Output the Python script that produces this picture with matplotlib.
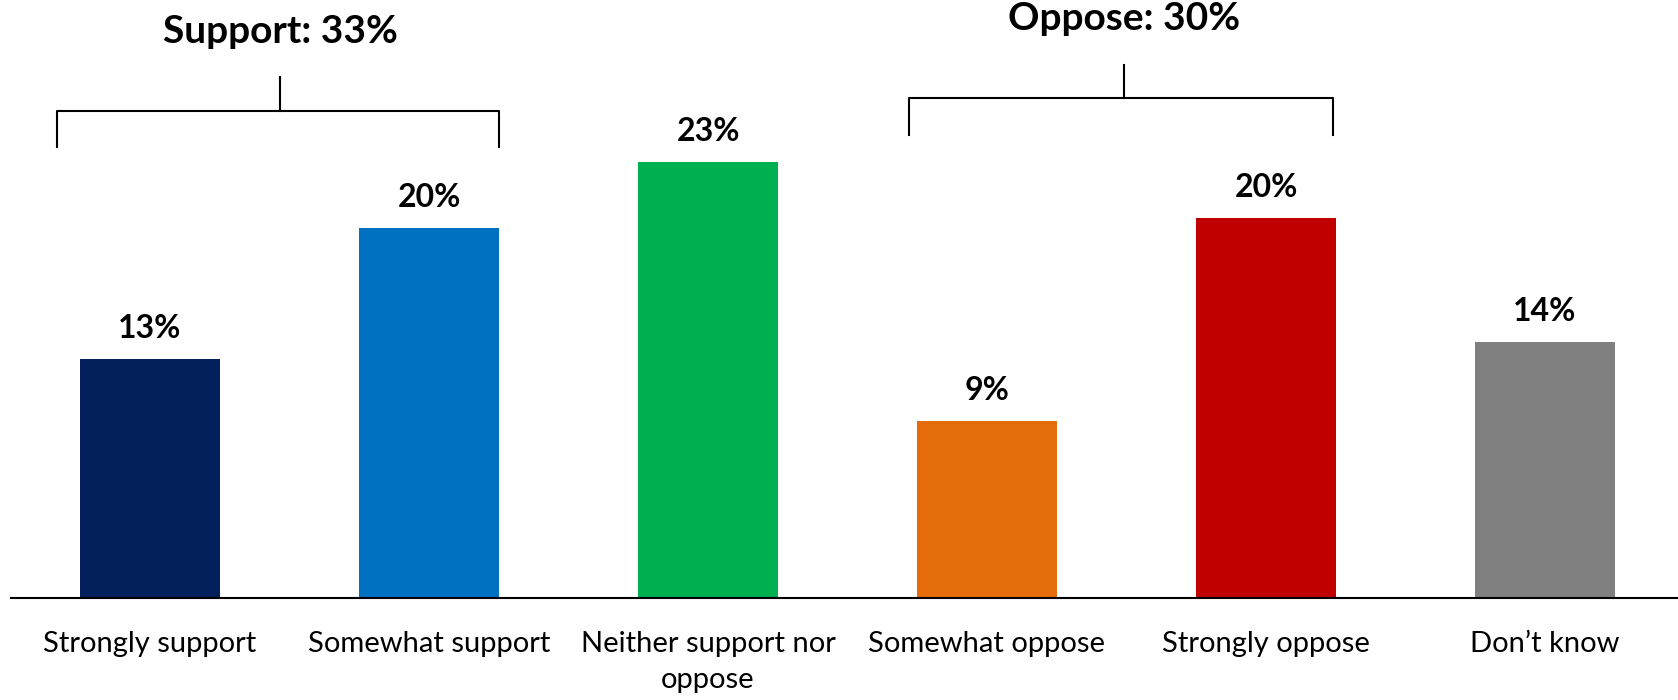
import numpy as np
import matplotlib
matplotlib.use('Agg')
import matplotlib.pyplot as plt

plt.rcParams['font.family'] = ['Lato', 'DejaVu Sans']

# data
categories = ['Strongly support', 'Somewhat support', 'Neither support nor\noppose',
              'Somewhat oppose', 'Strongly oppose', 'Don\u2019t know']
values = [12.7, 19.7, 23.2, 9.4, 20.2, 13.6]
value_labels = ['13%', '20%', '23%', '9%', '20%', '14%']
colors = ['#03205C', '#0070C0', '#00B050', '#E46C0A', '#C00000', '#808080']
group_labels = ['Support: 33%', 'Oppose: 30%']

fig = plt.figure(figsize=(16.78, 7.0), dpi=100)
ax = fig.add_axes([0, 0.1457, 1, 0.8543])

x = np.arange(len(categories))
ax.bar(x, values, width=0.5, color=colors)

for xi, v, lab in zip(x, values, value_labels):
    ax.text(xi, v + 0.85, lab, ha='center', va='bottom', fontsize=23, fontweight='bold')

ax.set_xlim(-0.538, 5.477)
ax.set_ylim(0, 31.8)

# brackets: (left, right, stem x, bar y, leg bottom, stem top, text y)
brackets = [(-0.334, 1.25, 0.467, 25.9, 24.0, 27.7, 30.1),
            (2.72, 4.24, 3.49, 26.6, 24.6, 28.35, 30.8)]
for (l, r, sx, hy, ly, ty, txty), lab in zip(brackets, group_labels):
    ax.plot([l, l, r, r], [ly, hy, hy, ly], color='black', lw=1.5, clip_on=False)
    ax.plot([sx, sx], [hy, ty], color='black', lw=1.5, clip_on=False)
    ax.text(sx, txty, lab, ha='center', va='center', fontsize=28, fontweight='bold')

ax.set_xticks(x)
ax.set_xticklabels(categories, fontsize=21, linespacing=1.45)
ax.tick_params(axis='x', length=0, pad=24)
ax.set_yticks([])
for s in ['top', 'right', 'left']:
    ax.spines[s].set_visible(False)
ax.spines['bottom'].set_linewidth(1.5)
ax.spines['bottom'].set_bounds(-0.5, 5.477)

fig.savefig('out.png', dpi=100)
